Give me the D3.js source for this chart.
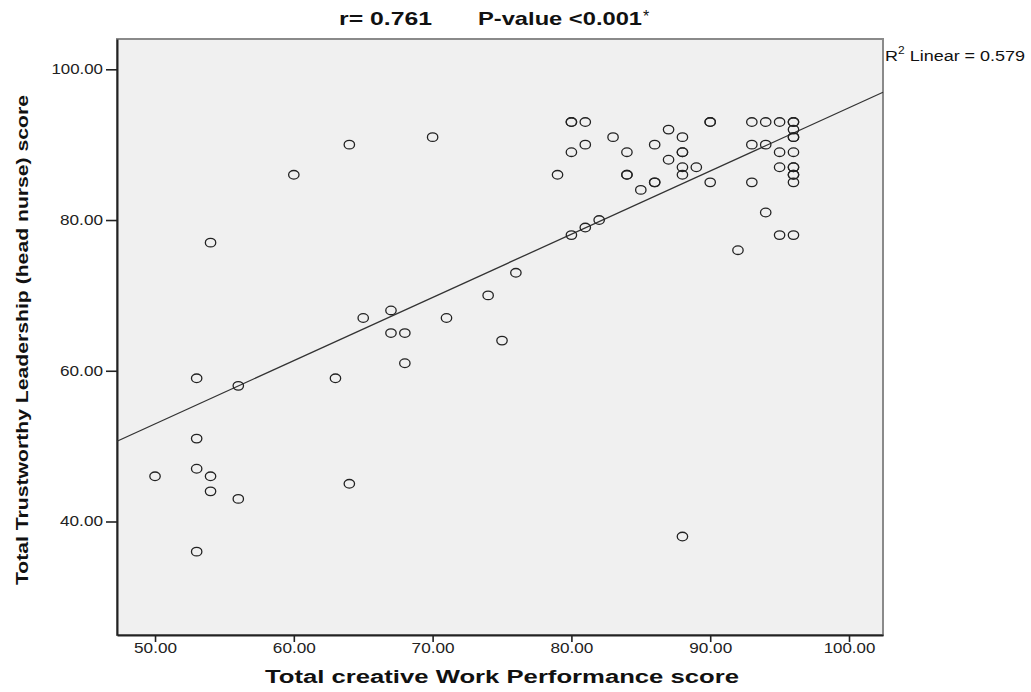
<!DOCTYPE html>
<html>
<head>
<meta charset="utf-8">
<script src="https://cdn.jsdelivr.net/npm/d3@7"></script>
<style>
  body { margin: 0; background: #fff; }
  svg { display: block; font-family: "Liberation Sans", Arial, sans-serif; }
</style>
</head>
<body>
<svg id="chart" width="1031" height="692"></svg>
<script>
// Total creative Work Performance score (x) for each nurse
const workScore = [
  50, 53, 53, 53, 53, 54, 54, 54, 56, 56, 60, 63, 64, 64, 65, 67, 67, 68, 68,
  70, 71, 74, 75, 76, 79, 80, 80, 80, 80, 81, 81, 81, 82, 83, 84, 84, 84, 85,
  86, 86, 86, 87, 87, 88, 88, 88, 88, 88, 88, 89, 90, 90, 90, 92, 93, 93, 93,
  94, 94, 94, 95, 95, 95, 95, 96, 96, 96, 96, 96, 96, 96, 96, 96, 96, 96, 96
];
// Total Trustworthy Leadership (head nurse) score (y)
const leaderScore = [
  46, 36, 47, 51, 59, 46, 44, 77, 43, 58, 86, 59, 90, 45, 67, 68, 65, 65, 61,
  91, 67, 70, 64, 73, 86, 93, 93, 89, 78, 93, 90, 79, 80, 91, 89, 86, 86, 84,
  90, 85, 85, 92, 88, 91, 89, 89, 87, 86, 38, 87, 93, 93, 85, 76, 93, 90, 85,
  93, 90, 81, 93, 89, 87, 78, 93, 93, 92, 91, 91, 89, 87, 87, 86, 86, 85, 78
];
const xTicks = [50, 60, 70, 80, 90, 100];
const yTicks = [40, 60, 80, 100];

// fit line as drawn in the picture
const fitIntercept = 11.0;
const fitSlope = 0.839;

const svg = d3.select("#chart");
const plotLeft = 117, plotRight = 883, plotTop = 39, plotBottom = 635;

const x = d3.scaleLinear().domain([47.26, 102.45]).range([plotLeft, plotRight]);
const y = d3.scaleLinear().domain([24.94, 104.02]).range([plotBottom, plotTop]);
const fmt = d3.format(".2f");

// plot area
svg.append("rect")
  .attr("x", plotLeft).attr("y", plotTop)
  .attr("width", plotRight - plotLeft).attr("height", plotBottom - plotTop)
  .attr("fill", "#f0f0f0")
  .attr("stroke", "#8a8a8a")
  .attr("stroke-width", 2);

// axes
const xAxis = svg.append("g")
  .attr("transform", `translate(0,${plotBottom})`)
  .call(d3.axisBottom(x).tickValues(xTicks).tickSize(7).tickSizeOuter(0).tickFormat(fmt));
const yAxis = svg.append("g")
  .attr("transform", `translate(${plotLeft},0)`)
  .call(d3.axisLeft(y).tickValues(yTicks).tickSize(11).tickSizeOuter(0).tickFormat(fmt));

[xAxis, yAxis].forEach(a => {
  a.select(".domain").attr("stroke", "#222").attr("stroke-width", 2);
  a.selectAll(".tick line").attr("stroke", "#222").attr("stroke-width", 1.6);
  a.selectAll(".tick text")
    .attr("fill", "#222")
    .style("font-size", "14px")
    .style("font-family", "'Liberation Sans', Arial, sans-serif")
    .attr("lengthAdjust", "spacingAndGlyphs")
    .attr("textLength", d => fmt(d).length * 8.6);
});
xAxis.selectAll(".tick text").attr("y", 8);
yAxis.selectAll(".tick text").attr("x", -14);

// fit line
const xd = x.domain();
svg.append("line")
  .attr("x1", x(xd[0])).attr("y1", y(fitIntercept + fitSlope * xd[0]))
  .attr("x2", x(xd[1])).attr("y2", y(fitIntercept + fitSlope * xd[1]))
  .attr("stroke", "#333")
  .attr("stroke-width", 1.3);

// points
svg.selectAll("ellipse.pt")
  .data(workScore.map((v, i) => ({ wx: v, ly: leaderScore[i] })))
  .enter()
  .append("ellipse")
  .attr("class", "pt")
  .attr("cx", d => x(d.wx))
  .attr("cy", d => y(d.ly))
  .attr("rx", 5.2)
  .attr("ry", 4.3)
  .attr("fill", "none")
  .attr("stroke", "#222")
  .attr("stroke-width", 1.3);

// title
svg.append("text")
  .attr("x", 339).attr("y", 25)
  .attr("font-size", 19).attr("font-weight", "bold").attr("fill", "#111")
  .attr("textLength", 93).attr("lengthAdjust", "spacingAndGlyphs")
  .text("r= 0.761");
svg.append("text")
  .attr("x", 478).attr("y", 25)
  .attr("font-size", 19).attr("font-weight", "bold").attr("fill", "#111")
  .attr("textLength", 164).attr("lengthAdjust", "spacingAndGlyphs")
  .text("P-value <0.001");
svg.append("text")
  .attr("x", 643).attr("y", 22)
  .attr("font-size", 16).attr("fill", "#111")
  .text("*");

// R² label (stretched horizontally like the original)
const r2 = svg.append("text")
  .attr("transform", "translate(885,61) scale(1.2,1)")
  .attr("font-size", 15).attr("fill", "#111");
r2.append("tspan").text("R");
r2.append("tspan").attr("font-size", 10).attr("dy", -7).text("2");
r2.append("tspan").attr("dy", 7).text(" Linear = 0.579");

// axis titles
svg.append("text")
  .attr("x", 502).attr("y", 683)
  .attr("text-anchor", "middle")
  .attr("font-size", 18).attr("font-weight", "bold").attr("fill", "#111")
  .attr("textLength", 474).attr("lengthAdjust", "spacingAndGlyphs")
  .text("Total creative Work Performance score");

svg.append("text")
  .attr("transform", "translate(28,340) rotate(-90)")
  .attr("text-anchor", "middle")
  .attr("font-size", 17).attr("font-weight", "bold").attr("fill", "#111")
  .attr("textLength", 490).attr("lengthAdjust", "spacingAndGlyphs")
  .text("Total Trustworthy Leadership (head nurse) score");
</script>
</body>
</html>
